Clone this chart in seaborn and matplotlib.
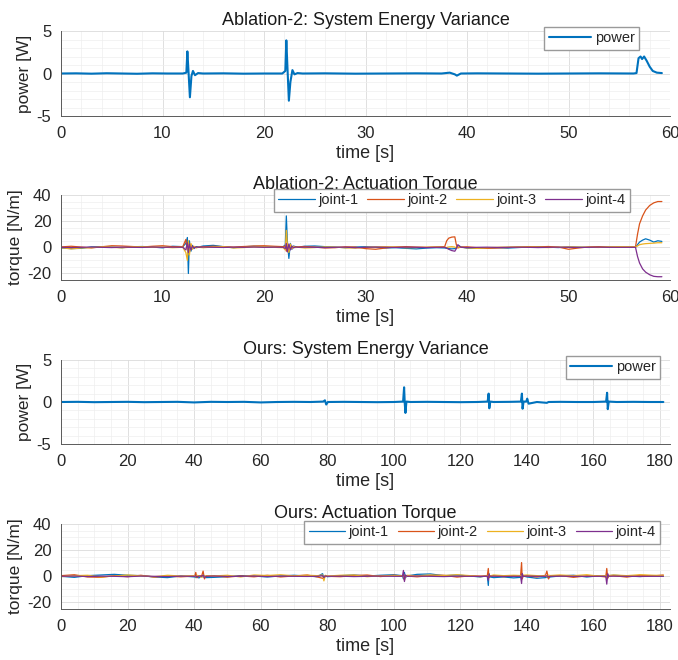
import numpy as np
import pandas as pd
import matplotlib
matplotlib.use("Agg")
import matplotlib.pyplot as plt
from matplotlib.ticker import MultipleLocator
import seaborn as sns

# ---- Ablation-2: system energy (power) ----
abl_power_t = [0, 1.5, 3, 4.5, 6, 7.5, 9, 10.5, 12.0, 12.35, 12.45, 12.55, 12.7, 12.85, 13.0, 13.2, 13.5,
               14, 16, 18, 20, 21.8, 22.1, 22.2, 22.3, 22.45, 22.6, 22.8, 23.0, 23.3, 23.8,
               26, 29, 32, 35, 37.5, 38.3, 38.8, 39.0, 39.4, 41, 44, 47, 50, 53,
               56.4, 56.7, 56.9, 57.1, 57.25, 57.45, 57.7, 58.0, 58.3, 58.7, 59.2]
abl_power_v = [0, 0.02, -0.02, 0.03, 0, -0.03, 0.02, 0, 0, 0.1, 2.6, 0.5, -2.8, -0.3, 0.3, -0.2, 0.05,
               0, 0.02, -0.02, 0, 0, 0.3, 3.9, 1.0, -3.2, -1.0, 0.4, -0.1, 0.05, 0,
               0.02, -0.02, 0, 0.02, 0, 0.1, -0.1, -0.25, 0, 0.02, 0, -0.02, 0, 0.02,
               0, 0.05, 1.8, 2.0, 1.7, 2.0, 1.5, 0.8, 0.3, 0.1, 0.05]

# ---- Ablation-2: actuation torque ----
abl_torque_t = [0, 1, 2, 3, 4, 5, 6, 7, 8, 9, 10, 11,
                12.0, 12.3, 12.45, 12.55, 12.65, 12.8, 12.95, 13.1, 13.3, 13.6,
                14, 15, 16, 17, 18, 19, 20, 21,
                21.9, 22.1, 22.2, 22.3, 22.45, 22.6, 22.75, 22.9, 23.1, 23.4,
                24, 25, 26, 27, 28, 29, 30, 31, 32, 33, 34, 35, 36, 37,
                37.8, 38.0, 38.2, 38.5, 38.8, 38.95, 39.1, 39.4,
                40, 41, 42, 43, 44, 45, 46, 47, 48, 49, 50, 51, 52, 53, 54, 55, 56,
                56.6, 56.8, 57.0, 57.3, 57.6, 58.0, 58.4, 58.8, 59.2]
abl_joint1 = [-0.5, -1.0, -0.8, 0.3, 0.5, 0.2, -0.3, 0.4, 0.6, 0.2, -0.4, 0.8,
              0.5, 3.0, 7.5, -20.0, 5.0, -3.0, 1.5, -1.0, 0.5, 0.3,
              1.0, 1.5, 0.5, -0.3, 0.4, 0.8, 0.5, 0.2,
              0.5, 2.0, 24.0, 5.0, -8.5, 3.0, -1.5, 1.0, 0.5, 0.2,
              0.8, 1.0, 0.5, 0.2, -0.3, 0.2, 0.5, 0.0, -0.5, -0.3, -0.8, -1.2, -0.6, -0.3,
              -0.5, -0.8, -1.0, -1.2, -1.0, -0.8, 1.5, 0.3,
              -0.6, -0.8, -0.5, -0.3, -0.6, -0.2, 0.2, 0.4, 0.1, -0.2, 0.3, 0.1, -0.1, 0.2, 0.0, 0.1, 0.0,
              0.0, 2.0, 4.0, 5.5, 6.5, 5.5, 4.0, 5.0, 4.5]
abl_joint2 = [0.3, 0.8, 0.2, -0.5, 0.4, 1.2, 1.0, 0.6, 0.2, 0.8, 1.2, 0.5,
              0.5, 6.0, -2.0, 4.0, -3.0, 2.0, -1.0, 0.5, -0.3, 0.2,
              0.4, 0.8, 0.5, 0.2, 0.6, 1.0, 1.2, 0.8,
              0.5, 1.0, -3.0, 3.0, -2.0, 2.0, -1.0, 0.5, 0.2, 0.4,
              0.6, 0.2, -0.5, -0.3, 0.4, 0.2, -1.0, -1.5, -0.5, 0.3, 0.5, 0.2, 0.0, 0.3,
              0.5, 5.0, 7.0, 7.8, 8.0, 2.0, -0.5, 0.2,
              0.4, -0.3, -0.8, -0.5, -0.2, 0.2, 0.5, 0.3, 0.6, 0.2, -1.5, -0.5, 0.3, 0.5, 0.2, 0.0, 0.2,
              0.3, 10.0, 18.0, 24.0, 28.5, 32.0, 34.0, 35.0, 35.0]
abl_joint3 = [-0.3, -1.2, -0.5, -0.2, 0.3, 0.0, -0.4, 0.2, 0.3, 0.0, 0.2, -0.3,
              0.0, -4.0, -10.0, 5.0, -6.0, 3.0, -1.5, 0.8, -0.3, 0.0,
              -0.3, 0.2, 0.5, -0.5, -0.2, 0.3, 0.4, 0.0,
              -0.3, -2.0, 13.0, 2.0, -4.0, 2.5, -1.0, 0.5, -0.2, 0.0,
              -0.5, -0.2, 0.3, 0.2, -0.4, -0.6, 0.0, 0.3, 0.5, 0.2, -0.3, -0.2, 0.0, 0.2,
              0.0, -0.2, 0.3, 0.5, 0.2, -0.5, 0.3, 0.0,
              -0.4, -0.8, -0.3, 0.0, 0.2, 0.3, 0.2, 0.0, -0.2, 0.1, 0.3, 0.2, 0.0, -0.1, 0.3, 0.5, 0.4,
              0.3, 1.0, 2.0, 2.5, 2.8, 3.0, 3.2, 3.5, 3.5]
abl_joint4 = [0.0, -0.2, 0.0, 0.2, 0.0, -0.2, 0.1, 0.0, -0.1, 0.2, 0.0, 0.1,
              0.0, -2.0, 3.5, -4.0, 2.5, -2.0, 1.0, -0.5, 0.2, 0.0,
              0.2, 0.0, -0.1, 0.1, 0.0, 0.2, 0.0, 0.1,
              0.0, -1.0, 3.0, -3.5, 2.5, -2.0, 1.0, -0.5, 0.2, 0.0,
              0.1, 0.0, -0.2, 0.0, 0.1, -0.3, 0.0, 0.2, 0.0, -0.1, 0.1, 0.0, -0.2, 0.0,
              0.0, -0.5, -1.5, -2.5, -3.0, -1.0, 2.0, 0.0,
              -0.2, 0.0, 0.1, -0.1, 0.0, 0.1, 0.0, -0.2, 0.0, 0.1, 0.0, -0.1, 0.0, 0.1, 0.0, 0.0, 0.0,
              0.0, -7.0, -12.0, -16.5, -19.0, -21.0, -22.2, -22.5, -22.5]

# ---- Ours: system energy (power) ----
ours_power_t = [0, 5, 10, 15, 20, 25, 30, 35, 40, 45, 50, 55, 60, 65, 70, 75,
                78.8, 79.3, 79.7, 80.2, 85, 90, 95, 100,
                102.8, 103.1, 103.3, 103.5, 103.8, 105, 110, 115, 120, 125,
                128.2, 128.5, 128.7, 129.0, 130, 135,
                138.2, 138.5, 138.7, 139.0, 139.8, 140.1, 140.5, 143, 146, 146.5, 150, 155, 160,
                163.8, 164.1, 164.3, 164.6, 167, 172, 177, 181]
ours_power_v = [0, 0.02, -0.02, 0, 0.02, -0.02, 0, 0.02, -0.05, 0.02, 0, 0.02, -0.05, 0, 0.02, 0,
                0.05, 0.2, -0.3, 0, 0.02, 0, -0.02, 0,
                0.05, 1.75, -0.2, -1.3, 0.05, 0, 0.02, 0, -0.02, 0,
                0.05, 1.0, -0.75, 0.05, 0, 0.02,
                0.05, 1.0, -0.8, 0.05, 0.05, 0.4, -0.2, 0, -0.1, 0, 0.02, 0, 0,
                0.05, 1.1, -0.85, 0.05, 0, 0.02, 0, 0]

# ---- Ours: actuation torque ----
ours_torque_t = [0, 4, 8, 12, 16, 20, 24, 28, 32, 36,
                 40.2, 40.5, 40.8, 41.5, 42.3, 42.7, 43.1, 43.6,
                 46, 50, 54, 58, 62, 66, 70, 74, 77,
                 78.6, 79.0, 79.4, 80,
                 84, 88, 92, 96, 100,
                 102.6, 102.9, 103.2, 103.5, 104,
                 107, 111, 115, 119, 123, 126,
                 128.1, 128.4, 128.6, 128.9,
                 130, 133, 136,
                 138.1, 138.4, 138.6, 138.9,
                 140, 143,
                 145.6, 146.0, 146.5, 147,
                 150, 154, 158, 161,
                 163.7, 164.0, 164.3, 164.6,
                 166, 170, 174, 178, 181]
ours_joint1 = [0.0, -0.8, 0.5, 1.0, 1.5, 0.8, 0.5, -0.5, -1.0, 0.3,
               -0.5, -1.0, -0.8, -1.2, 0.5, -0.6, 0.3, -1.0,
               -0.8, -0.3, 0.5, 0.2, -0.5, 0.3, 0.8, 0.2, -0.3,
               2.0, -1.5, 0.5, -0.3,
               0.5, 1.0, 0.2, 0.8, 1.2,
               0.5, -2.0, 3.0, -1.0, 0.3,
               1.5, 1.8, 0.5, 1.0, 0.2, -0.5,
               0.5, -7.0, 2.0, -0.5,
               -1.0, -0.5, -1.2,
               -0.8, 1.5, -1.0, 0.3,
               -0.5, -1.5,
               -1.0, -0.8, -1.2, -0.5,
               0.3, 0.8, -0.5, 0.2,
               0.2, 1.5, -1.0, 0.5,
               0.8, 0.3, -0.2, 0.5, 0.0]
ours_joint2 = [0.5, 1.2, -0.5, -0.8, 0.5, -0.3, 0.8, -0.6, 0.2, -0.4,
               0.2, 3.0, -1.0, 0.2, 0.5, 4.0, -2.0, 0.3,
               0.4, -0.6, 0.3, -0.4, 0.8, -0.5, 0.3, 1.0, -0.5,
               -1.5, -2.0, 0.5, 0.0,
               -0.3, 0.6, 1.0, -0.2, 0.8,
               0.3, 1.0, -3.0, 0.5, 0.2,
               -0.4, 0.6, 0.8, -0.6, 0.4, 0.2,
               0.3, 6.0, -1.0, 0.2,
               0.5, -0.3, 0.4,
               0.5, 10.5, -2.0, 0.6,
               0.3, -0.5,
               0.8, 4.0, -2.0, 0.5,
               0.6, -0.8, 0.4, 0.3,
               -0.5, 6.0, -1.5, 0.5,
               0.5, -0.6, 0.8, 0.3, 1.0]
ours_joint3 = [-0.3, 0.5, 0.8, -0.5, 0.2, 1.0, 0.4, -0.3, 0.8, 0.2,
               0.5, -0.5, 0.8, 0.3, -0.8, 1.0, -0.5, 0.5,
               0.3, 0.8, -0.5, 1.0, 0.6, 1.2, 0.3, 0.8, 0.5,
               1.0, -3.5, 0.8, 0.2,
               0.8, 1.0, -0.3, 0.5, 0.6,
               0.3, -0.5, 1.0, -0.5, 0.8,
               0.4, 1.0, 0.6, 1.2, 0.5, -0.3,
               0.2, -1.0, 0.8, 0.3,
               1.0, 0.5, 0.8,
               0.6, -0.5, 0.3, 0.8,
               1.0, 0.5,
               0.3, -0.5, 0.8, 0.6,
               1.0, 0.5, 1.2, 0.3,
               0.5, -1.0, 0.8, 0.6,
               1.0, 0.5, 1.2, 0.8, 0.6]
ours_joint4 = [0.0, 0.2, -0.2, 0.1, 0.0, -0.3, 0.2, 0.0, -0.2, 0.1,
               0.0, 0.5, -0.5, 0.2, 0.0, 1.0, -1.0, 0.0,
               0.2, -0.1, 0.0, 0.2, -0.2, 0.1, 0.0, -0.1, 0.0,
               0.5, -1.0, 0.3, 0.0,
               0.1, -0.2, 0.0, 0.2, 0.0,
               0.0, 4.5, -4.0, 1.0, 0.0,
               0.2, 0.0, -0.2, 0.1, 0.0, -0.1,
               0.0, -3.0, 1.5, 0.0,
               0.1, -0.1, 0.0,
               0.0, -5.5, 2.0, 0.0,
               0.2, 0.0,
               0.0, 0.5, -0.5, 0.0,
               0.1, 0.0, -0.1, 0.0,
               0.0, -6.0, 2.0, 0.0,
               0.1, 0.0, -0.1, 0.0, 0.0]

JOINTS = ["joint-1", "joint-2", "joint-3", "joint-4"]
JOINT_COLORS = ["#0072BD", "#D95319", "#EDB120", "#7E2F8E"]
POWER_COLOR = "#0072BD"

sns.set_style("white")
plt.rcParams["font.family"] = ["Liberation Sans", "DejaVu Sans"]
plt.rcParams["axes.unicode_minus"] = False

TICK_FS = 12
LABEL_FS = 13
YLABEL_FS = 12.5
LEGEND_FS = 10.5
AXIS_GRAY = "#5a5a5a"


def torque_frame(t, series):
    return pd.DataFrame({
        "time": np.tile(t, len(series)),
        "torque": np.concatenate(series),
        "joint": np.repeat(JOINTS, len(t)),
    })


def style_axis(ax, xmax, xmajor, xminor, ylim, ymajor, yminor, title, ylabel):
    ax.set_xlim(0, xmax)
    ax.set_ylim(*ylim)
    ax.xaxis.set_major_locator(MultipleLocator(xmajor))
    ax.xaxis.set_minor_locator(MultipleLocator(xminor))
    ax.yaxis.set_major_locator(MultipleLocator(ymajor))
    ax.yaxis.set_minor_locator(MultipleLocator(yminor))
    ax.grid(which="major", color="#dadada", lw=0.6)
    ax.grid(which="minor", color="#eeeeee", lw=0.5)
    ax.set_axisbelow(True)
    for side in ["top", "right"]:
        ax.spines[side].set_visible(False)
    for side in ["left", "bottom"]:
        ax.spines[side].set_color(AXIS_GRAY)
        ax.spines[side].set_linewidth(0.7)
    ax.tick_params(which="major", direction="in", length=4, width=0.6, color=AXIS_GRAY,
                   labelcolor="#262626", labelsize=TICK_FS, pad=7)
    ax.tick_params(which="minor", length=0)
    ax.set_title(title, fontsize=LABEL_FS, color="#1a1a1a", pad=4)
    ax.set_xlabel("time [s]", fontsize=LABEL_FS, color="#262626", labelpad=3)
    ax.set_ylabel(ylabel, fontsize=YLABEL_FS, color="#262626", labelpad=3)


def place_legend(ax, anchor, ncol, handlelength):
    handles, labels = ax.get_legend_handles_labels()
    ax.legend(handles, labels, loc="upper right", bbox_to_anchor=anchor, borderaxespad=0,
              ncol=ncol, fontsize=LEGEND_FS, frameon=True, fancybox=False, framealpha=1,
              edgecolor="#9a9a9a", handlelength=handlelength, handletextpad=0.25,
              columnspacing=0.6, borderpad=0.3)


fig = plt.figure(figsize=(6.78, 6.6), dpi=100)
W, H = 678, 660
left, right = 61, 670
panel_px = [(31, 116), (195, 280), (360, 444), (524, 609)]
axes = [fig.add_axes([left / W, 1 - b / H, (right - left) / W, (b - t) / H]) for t, b in panel_px]

# panel 1
ax = axes[0]
sns.lineplot(x=abl_power_t, y=abl_power_v, ax=ax, color=POWER_COLOR, lw=1.5, label="power",
             estimator=None, sort=False)
style_axis(ax, 60, 10, 2, (-5, 5), 5, 1, "Ablation-2: System Energy Variance", "power [W]")
place_legend(ax, (0.949, 1.047), 1, 2.9)

# panel 2
ax = axes[1]
df_abl = torque_frame(abl_torque_t, [abl_joint1, abl_joint2, abl_joint3, abl_joint4])
sns.lineplot(data=df_abl, x="time", y="torque", hue="joint", palette=JOINT_COLORS, ax=ax,
             lw=0.9, estimator=None, sort=False)
style_axis(ax, 60, 10, 2, (-25, 40), 20, 5, "Ablation-2: Actuation Torque", "torque [N/m]")
place_legend(ax, (0.934, 1.07), 4, 2.5)

# panel 3
ax = axes[2]
sns.lineplot(x=ours_power_t, y=ours_power_v, ax=ax, color=POWER_COLOR, lw=1.5, label="power",
             estimator=None, sort=False)
style_axis(ax, 183, 20, 5, (-5, 5), 5, 1, "Ours: System Energy Variance", "power [W]")
place_legend(ax, (0.984, 1.048), 1, 2.9)

# panel 4
ax = axes[3]
df_ours = torque_frame(ours_torque_t, [ours_joint1, ours_joint2, ours_joint3, ours_joint4])
sns.lineplot(data=df_ours, x="time", y="torque", hue="joint", palette=JOINT_COLORS, ax=ax,
             lw=0.9, estimator=None, sort=False)
style_axis(ax, 183, 20, 5, (-25, 40), 20, 5, "Ours: Actuation Torque", "torque [N/m]")
place_legend(ax, (0.984, 1.035), 4, 2.5)

fig.savefig("out.png", dpi=100, facecolor="white")
